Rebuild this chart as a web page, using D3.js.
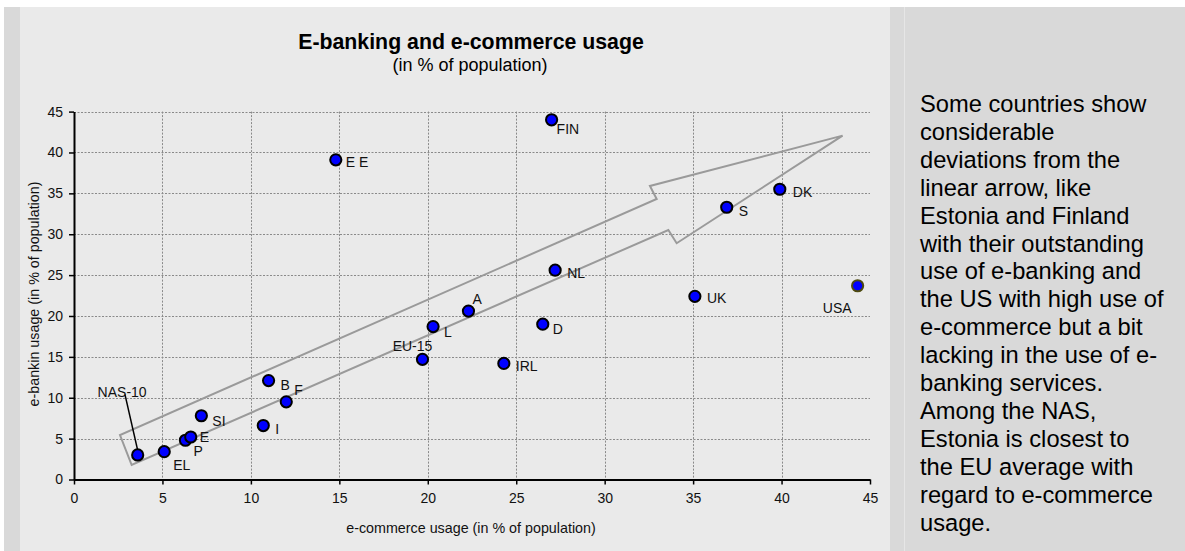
<!DOCTYPE html>
<html>
<head>
<meta charset="utf-8">
<script src="https://cdn.jsdelivr.net/npm/d3@7"></script>
<style>
  html, body { margin: 0; padding: 0; background: #ffffff; }
  svg { display: block; font-family: "Liberation Sans", Arial, sans-serif; }
</style>
</head>
<body>
<svg id="chart" width="1185" height="551"></svg>
<script>
// Country codes and their usage shares (% of population)
const countries = ["NAS-10", "EL", "P", "E", "SI", "I", "B", "F", "E E", "EU-15",
                   "L", "A", "IRL", "D", "FIN", "NL", "UK", "S", "DK", "USA"];
const ecommerce = [3.6, 5.1, 6.3, 6.6, 7.2, 10.7, 11.0, 12.0, 14.8, 19.7,
                   20.3, 22.3, 24.3, 26.5, 27.0, 27.2, 35.1, 36.9, 39.9, 44.3];
const ebanking  = [3.0, 3.4, 4.8, 5.2, 7.8, 6.6, 12.1, 9.5, 39.1, 14.7,
                   18.7, 20.6, 14.2, 19.0, 44.0, 25.6, 22.4, 33.3, 35.5, 23.7];

const xTicks = [0, 5, 10, 15, 20, 25, 30, 35, 40, 45];
const yTicks = [0, 5, 10, 15, 20, 25, 30, 35, 40, 45];

// Outline of the trend arrow, in data units (e-commerce, e-banking)
const arrowOutline = [
  [43.45, 42.06], [32.56, 35.90], [32.94, 34.31], [2.60, 5.44],
  [3.26, 1.77], [33.60, 30.52], [34.07, 28.90]
];
// Leader from the NAS-10 label to its point, in data units
const nasLeader = [[2.88, 10.42], [3.63, 3.28]];
const nasLabelAt = [2.72, 10.67];

const titleText = "E-banking and e-commerce usage";
const subtitleText = "(in % of population)";
const xTitle = "e-commerce usage (in % of population)";
const yTitle = "e-bankin usage (in % of population)";

const noteLines = [
  "Some countries show",
  "considerable",
  "deviations from the",
  "linear arrow, like",
  "Estonia and Finland",
  "with their outstanding",
  "use of e-banking and",
  "the US with high use of",
  "e-commerce but a bit",
  "lacking in the use of e-",
  "banking services.",
  "Among the NAS,",
  "Estonia is closest to",
  "the EU average with",
  "regard to e-commerce",
  "usage."
];

// label placement relative to each marker (pixels)
const labelOffset = {
  "EL": [9, 18], "P": [8, 16], "E": [9, 5], "SI": [11, 10], "I": [12, 8],
  "B": [12, 9], "F": [8, -7], "E E": [10, 7], "EU-15": [-10, -8, "middle"],
  "L": [11, 10], "A": [4, -7], "IRL": [12, 8], "D": [10, 10], "FIN": [5, 14],
  "NL": [12, 8], "UK": [12, 7], "S": [12, 9], "DK": [13, 8], "USA": [-6, 27, "end"]
};

const svg = d3.select("#chart");

// panels
svg.append("rect").attr("x", 4).attr("y", 7).attr("width", 16).attr("height", 544).attr("fill", "#d9d9d9");
svg.append("rect").attr("x", 20).attr("y", 7).attr("width", 870).attr("height", 544).attr("fill", "#eaeaea");
svg.append("rect").attr("x", 890).attr("y", 7).attr("width", 295).attr("height", 544).attr("fill", "#d9d9d9");
svg.append("line").attr("x1", 904.5).attr("x2", 904.5).attr("y1", 7).attr("y2", 551)
   .attr("stroke", "#e6e6e6").attr("stroke-width", 1);

const x = d3.scaleLinear().domain([0, 45]).range([74, 870]);
const y = d3.scaleLinear().domain([0, 45]).range([479.5, 111.6]);

// gridlines
const grid = svg.append("g").attr("stroke", "#8a8a8a").attr("stroke-width", 1)
  .attr("stroke-dasharray", "2,1.5");
grid.selectAll("line.h").data(yTicks.filter(v => v > 0)).join("line")
  .attr("x1", x(0)).attr("x2", x(45))
  .attr("y1", d => Math.round(y(d)) + 0.5).attr("y2", d => Math.round(y(d)) + 0.5);
grid.selectAll("line.v").data(xTicks.filter(v => v > 0 && v < 45)).join("line")
  .attr("x1", d => Math.round(x(d)) + 0.5).attr("x2", d => Math.round(x(d)) + 0.5)
  .attr("y1", y(45)).attr("y2", y(0));

// axes
const xAxis = svg.append("g").attr("transform", `translate(0,${y(0)})`)
  .call(d3.axisBottom(x).tickValues(xTicks).tickSize(5).tickSizeOuter(0).tickPadding(9));
const yAxis = svg.append("g").attr("transform", `translate(${x(0)},0)`)
  .call(d3.axisLeft(y).tickValues(yTicks).tickSize(5).tickSizeOuter(0).tickPadding(6));
[xAxis, yAxis].forEach(a => {
  a.select(".domain").attr("stroke", "#000").attr("stroke-width", 2);
  a.selectAll(".tick line").attr("stroke", "#000").attr("stroke-width", 1.5);
  a.selectAll(".tick text").attr("fill", "#111").style("font-size", "14px")
    .style("font-family", "'Liberation Sans', Arial, sans-serif");
});

// arrow
svg.append("path")
  .attr("d", d3.line().x(d => x(d[0])).y(d => y(d[1]))(arrowOutline) + "Z")
  .attr("fill", "none").attr("stroke", "#9a9a9a").attr("stroke-width", 2);

// NAS-10 leader line
svg.append("line")
  .attr("x1", x(nasLeader[0][0])).attr("y1", y(nasLeader[0][1]))
  .attr("x2", x(nasLeader[1][0])).attr("y2", y(nasLeader[1][1]))
  .attr("stroke", "#000").attr("stroke-width", 1.5);

const pts = countries.map((c, i) => ({ c, xv: ecommerce[i], yv: ebanking[i] }));

// markers
svg.append("g").selectAll("circle").data(pts).join("circle")
  .attr("cx", d => x(d.xv)).attr("cy", d => y(d.yv)).attr("r", 5.6)
  .attr("fill", "#0000ff")
  .attr("stroke", d => d.c === "USA" ? "#4d4a10" : "#000")
  .attr("stroke-width", 2);

// point labels
svg.append("g").selectAll("text").data(pts.filter(d => d.c !== "NAS-10")).join("text")
  .attr("x", d => x(d.xv) + labelOffset[d.c][0])
  .attr("y", d => y(d.yv) + labelOffset[d.c][1])
  .attr("text-anchor", d => labelOffset[d.c][2] || "start")
  .style("font-size", "14px").attr("fill", "#111")
  .text(d => d.c);
svg.append("text")
  .attr("x", x(nasLabelAt[0])).attr("y", y(nasLabelAt[1]) + 5)
  .attr("text-anchor", "middle").style("font-size", "14px").attr("fill", "#111")
  .text("NAS-10");

// titles
svg.append("text").attr("x", 471).attr("y", 49).attr("text-anchor", "middle")
  .style("font-size", "21.3px").style("font-weight", "bold").attr("fill", "#000").text(titleText);
svg.append("text").attr("x", 470).attr("y", 71).attr("text-anchor", "middle")
  .style("font-size", "18px").attr("fill", "#000").text(subtitleText);
svg.append("text").attr("x", 471).attr("y", 533).attr("text-anchor", "middle")
  .style("font-size", "14.3px").attr("fill", "#111").text(xTitle);
svg.append("text").attr("transform", "translate(39,294) rotate(-90)").attr("text-anchor", "middle")
  .style("font-size", "14.3px").attr("fill", "#111").text(yTitle);

// side note
svg.append("g").selectAll("text").data(noteLines).join("text")
  .attr("x", 920).attr("y", (d, i) => 112 + i * 27.9)
  .style("font-size", "23.7px").attr("fill", "#000")
  .text(d => d);
</script>
</body>
</html>
